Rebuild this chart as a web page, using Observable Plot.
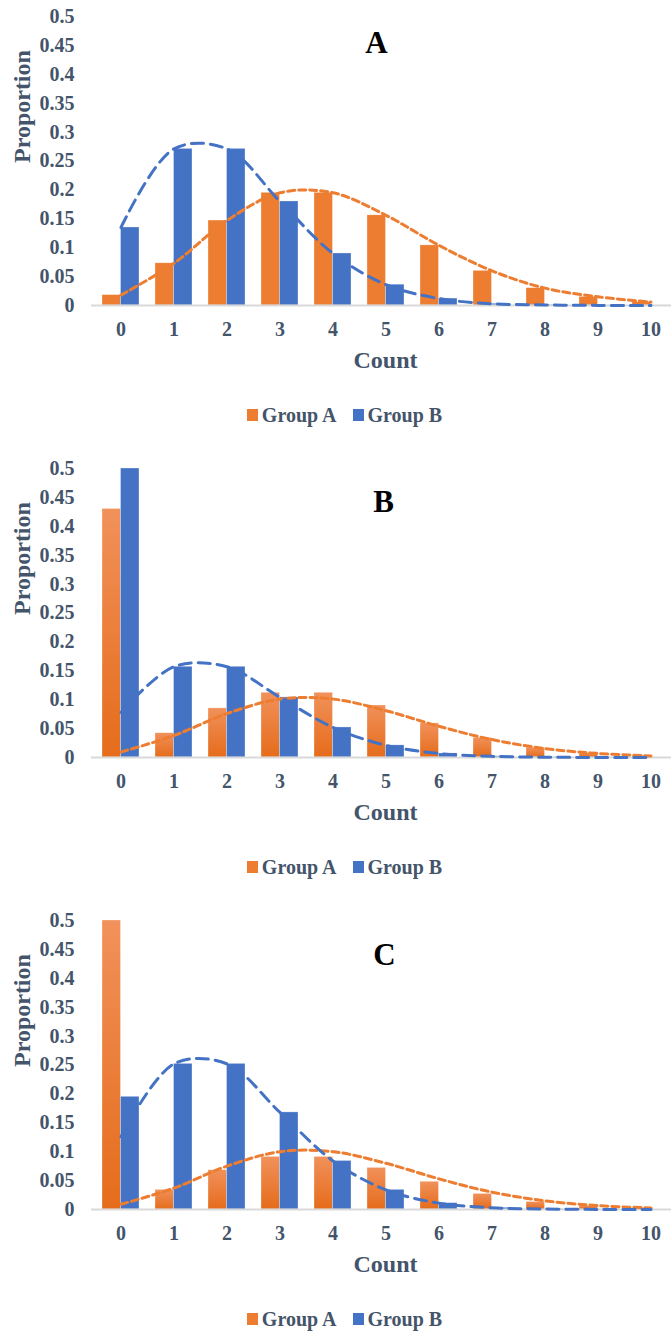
<!DOCTYPE html>
<html>
<head>
<meta charset="utf-8">
<script src="https://cdn.jsdelivr.net/npm/d3@7"></script>
<script src="https://cdn.jsdelivr.net/npm/@observablehq/plot@0.6"></script>
<style>
  html, body { margin: 0; padding: 0; background: #fff; overflow: hidden; width: 671px; }
  .panel { width: 671px; height: 452px; position: relative; }
  .legend { height: 52px; display: flex; justify-content: center; align-items: flex-start; padding-left: 18px; box-sizing: border-box;
    font-family: 'Liberation Serif', 'Times New Roman', serif; font-weight: bold; font-size: 20px; color: #44546A; }
  .legend .item { display: flex; align-items: center; margin: 0 8px; line-height: 20px; padding-top: 5px; }
  .legend .sw { width: 11px; height: 12px; margin-right: 4px; display: inline-block; }
</style>
</head>
<body>
<div id="root"></div>
<script>
// ---- data ----
const categories = [0, 1, 2, 3, 4, 5, 6, 7, 8, 9, 10];
const yTicks = [0, 0.05, 0.1, 0.15, 0.2, 0.25, 0.3, 0.35, 0.4, 0.45, 0.5];
const seriesNames = ["Group A", "Group B"];
const panelTitles = ["A", "B", "C"];
const xTitle = "Count";
const yTitle = "Proportion";

// Panel A
const aBarsA  = [0.018, 0.073, 0.147, 0.195, 0.195, 0.156, 0.104, 0.060, 0.030, 0.015, 0.006];
const aBarsB  = [0.135, 0.271, 0.271, 0.180, 0.090, 0.036, 0.012, 0.003, 0.001, 0.0002, 0.0001];
const aCurveA = [0.018, 0.073, 0.147, 0.195, 0.195, 0.156, 0.104, 0.060, 0.030, 0.015, 0.006];
const aCurveB = [0.135, 0.271, 0.271, 0.180, 0.090, 0.036, 0.012, 0.003, 0.001, 0.0002, 0.0001];
// Panel B
const bBarsA  = [0.430, 0.042, 0.085, 0.112, 0.112, 0.090, 0.059, 0.034, 0.017, 0.0075, 0.003];
const bBarsB  = [0.500, 0.157, 0.157, 0.104, 0.052, 0.021, 0.007, 0.002, 0.0005, 0.0001, 0];
const bCurveA = [0.0095, 0.038, 0.076, 0.101, 0.101, 0.081, 0.054, 0.031, 0.0155, 0.007, 0.0028];
const bCurveB = [0.078, 0.157, 0.157, 0.104, 0.052, 0.021, 0.007, 0.002, 0.0005, 0.0001, 0];
// Panel C
const cBarsA  = [0.500, 0.034, 0.068, 0.091, 0.091, 0.072, 0.048, 0.027, 0.013, 0.006, 0.0025];
const cBarsB  = [0.195, 0.252, 0.252, 0.168, 0.084, 0.034, 0.011, 0.003, 0.0008, 0.0002, 0];
const cCurveA = [0.009, 0.037, 0.075, 0.100, 0.100, 0.080, 0.053, 0.030, 0.015, 0.0067, 0.0027];
const cCurveB = [0.126, 0.252, 0.252, 0.168, 0.084, 0.034, 0.011, 0.003, 0.0008, 0.0002, 0];

// ---- styles ----
const ORANGE = "#ED7D31", BLUE = "#4472C4", TEXT = "#44546A";
const FONT = "'Liberation Serif', 'Times New Roman', serif";

const panels = [
  {title: panelTitles[0], barsA: aBarsA, barsB: aBarsB, curveA: aCurveA, curveB: aCurveB, gradient: false, tdx: -5, tdy: 27},
  {title: panelTitles[1], barsA: bBarsA, barsB: bBarsB, curveA: bCurveA, curveB: bCurveB, gradient: true,  tdx: 2,  tdy: 34},
  {title: panelTitles[2], barsA: cBarsA, barsB: cBarsB, curveA: cCurveA, curveB: cCurveB, gradient: true,  tdx: 3,  tdy: 35}
];

const root = document.getElementById("root");

panels.forEach((p, pi) => {
  const rows = (arr) => categories.map((c, i) => ({c, v: arr[i]}));
  const gid = "gradOrange" + pi;
  const orangeFill = p.gradient ? `url(#${gid})` : ORANGE;
  const half = 18.5;

  const defs = () => {
    const d = d3.create("svg:defs");
    const g = d.append("linearGradient").attr("id", gid).attr("x1", 0).attr("y1", 0).attr("x2", 0).attr("y2", 1);
    g.append("stop").attr("offset", "0%").attr("stop-color", "#F1915B");
    g.append("stop").attr("offset", "100%").attr("stop-color", "#E56C1B");
    return d.node();
  };

  const chart = Plot.plot({
    width: 671,
    height: 400,
    marginTop: 16,
    marginBottom: 95,
    marginLeft: 91,
    marginRight: 0,
    style: {fontFamily: FONT, fontSize: "20px", fontWeight: "bold", color: TEXT, background: "#fff"},
    x: {type: "band", domain: categories, range: [91.25, 679.75], paddingInner: 0.308, paddingOuter: 0.154, align: 0.5},
    y: {domain: [0, 0.5], clamp: true},
    marks: [
      defs,
      Plot.barY(rows(p.barsA), {x: "c", y: "v", fill: orangeFill, insetRight: half, stroke: "#fff", strokeOpacity: 0.5, strokeWidth: 0.6}),
      Plot.barY(rows(p.barsB), {x: "c", y: "v", fill: BLUE, insetLeft: half, stroke: "#fff", strokeOpacity: 0.5, strokeWidth: 0.6}),
      Plot.ruleY([0], {stroke: "#D9D9D9", strokeWidth: 2}),
      Plot.line(rows(p.curveA), {x: "c", y: "v", stroke: ORANGE, strokeWidth: 3, strokeDasharray: "7,4", curve: "catmull-rom"}),
      Plot.line(rows(p.curveB), {x: "c", y: "v", stroke: BLUE, strokeWidth: 3, strokeDasharray: "12,7", curve: "catmull-rom"}),
      Plot.axisY(yTicks, {tickSize: 0, tickPadding: 17, label: null, fontSize: 20, fontWeight: "bold", fill: TEXT,
        tickFormat: d => String(+d.toFixed(2))}),
      Plot.axisX(categories, {tickSize: 0, tickPadding: 16, label: null, fontSize: 20, fontWeight: "bold", fill: TEXT}),
      Plot.text([xTitle], {text: d => d, frameAnchor: "bottom", dx: 4, dy: 55, lineAnchor: "middle", fontSize: 24, fontWeight: "bold", fill: TEXT}),
      Plot.text([yTitle], {text: d => d, frameAnchor: "left", dx: -69, dy: 2, rotate: -90, lineAnchor: "middle", fontSize: 24, fontWeight: "bold", fill: TEXT}),
      Plot.text([p.title], {text: d => d, frameAnchor: "top", dx: p.tdx, dy: p.tdy, lineAnchor: "middle", fontSize: 31, fontWeight: "bold", fill: "#000"})
    ]
  });

  const panel = document.createElement("div");
  panel.className = "panel";
  panel.appendChild(chart);

  const legend = document.createElement("div");
  legend.className = "legend";
  [[seriesNames[0], ORANGE], [seriesNames[1], BLUE]].forEach(([name, col]) => {
    const it = document.createElement("div");
    it.className = "item";
    const sw = document.createElement("span");
    sw.className = "sw";
    sw.style.background = col;
    it.appendChild(sw);
    it.appendChild(document.createTextNode(name));
    legend.appendChild(it);
  });
  panel.appendChild(legend);
  root.appendChild(panel);
});
</script>
</body>
</html>
